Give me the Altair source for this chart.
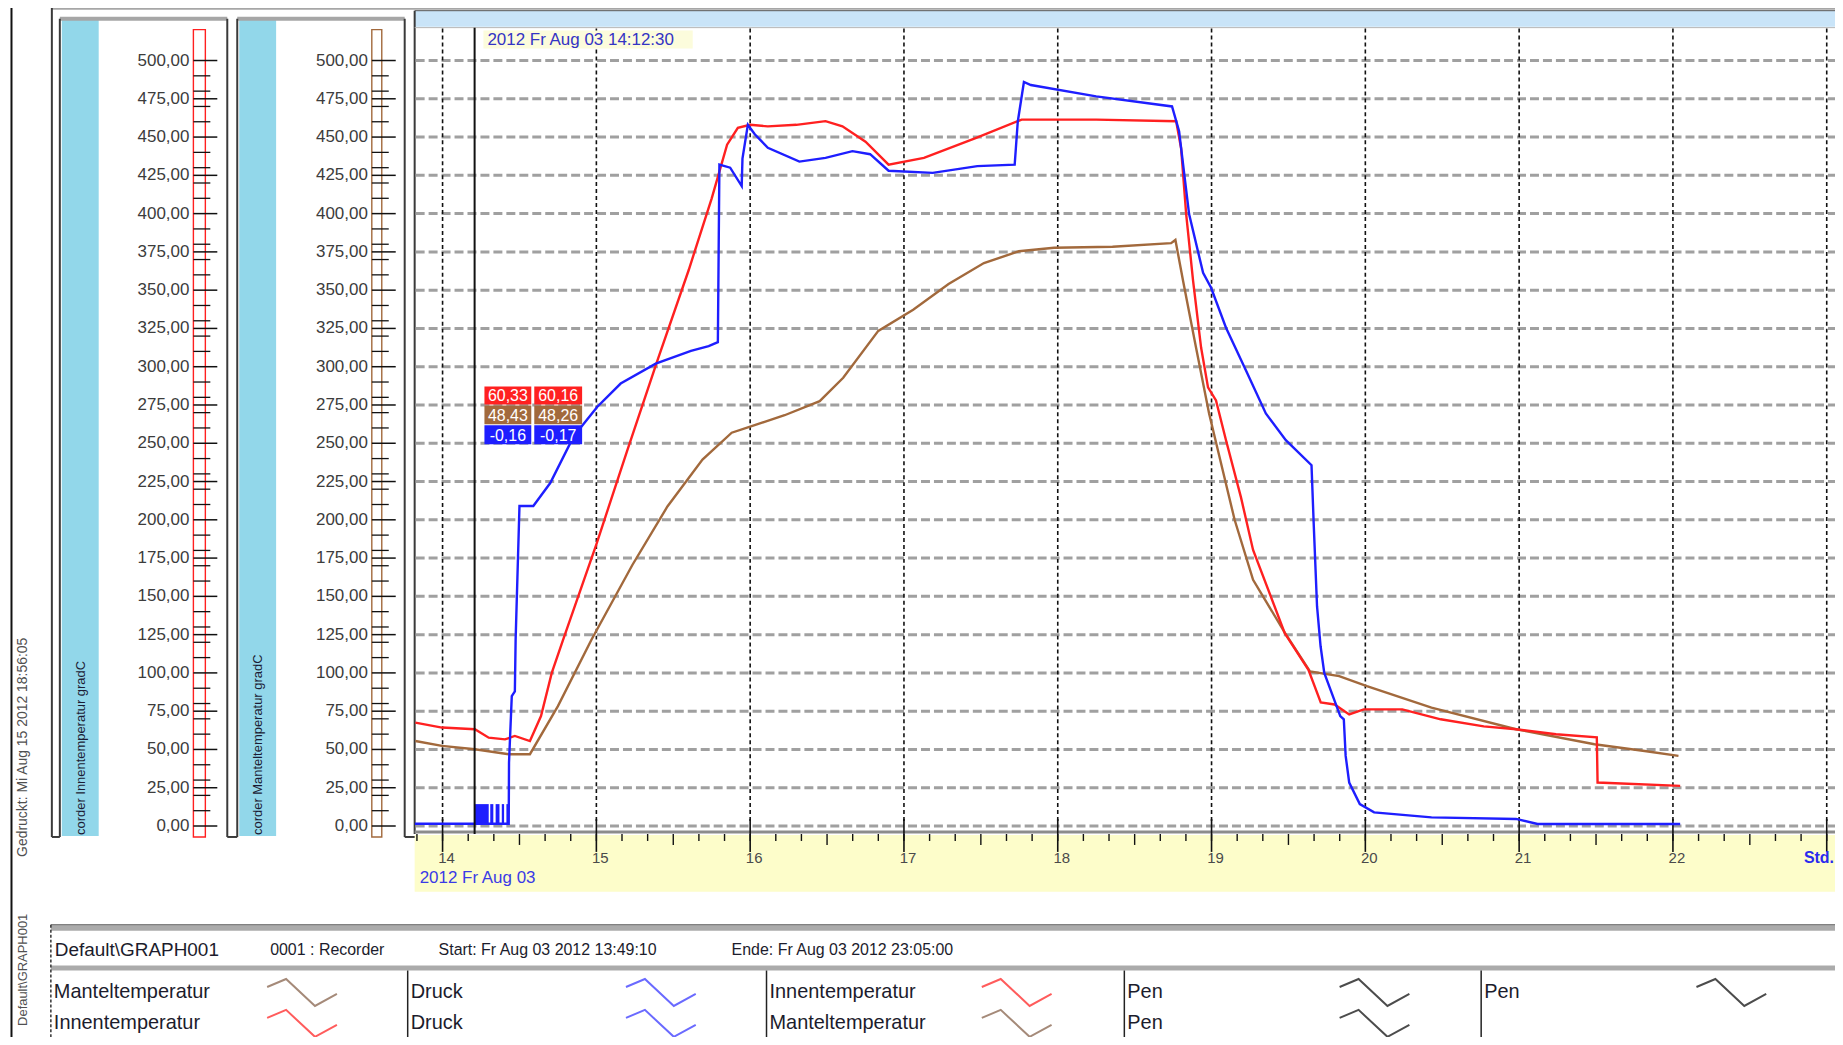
import altair as alt
import pandas as pd

# ---------------- data ----------------
innen_h = [13.823, 13.996, 14.21, 14.30, 14.406, 14.47, 14.568, 14.64, 14.71, 14.784, 15.0, 15.2, 15.4, 15.6,
           15.75, 15.85, 15.92, 16.0, 16.115, 16.3, 16.49, 16.6, 16.75, 16.9, 17.13, 17.47, 17.765, 18.25,
           18.77, 18.802, 18.835, 18.88, 18.932, 18.977, 19.029, 19.094, 19.191, 19.27, 19.476, 19.63, 19.71,
           19.8, 19.895, 19.99, 20.24, 20.49, 20.77, 20.98, 21.24, 21.505, 21.51, 22.047]
innen_v = [67.5, 64.3, 63.2, 57.7, 56.6, 58.8, 55.5, 71.8, 100, 121.7, 184, 245, 305, 363,
           410, 445, 456, 458, 457, 458, 460.4, 457, 447, 432, 436.4, 449.4, 461.4, 461.4,
           460.3, 442.7, 399.7, 356, 312.5, 286.5, 278, 252, 214.8, 180.3, 126, 102, 80.7,
           79.4, 72.9, 76.2, 76.2, 69.7, 65.1, 63.2, 59.9, 57.9, 28.4, 26.2]

druck_h = [13.82, 14.21, 14.43, 14.432, 14.45, 14.47, 14.475, 14.50, 14.59, 14.70, 14.853, 15.005, 15.158,
           15.386, 15.615, 15.73, 15.79, 15.80, 15.87, 15.945, 15.95, 15.985, 16.03, 16.115, 16.32, 16.49,
           16.665, 16.78, 16.9, 17.187, 17.477, 17.72, 17.74, 17.78, 17.825, 18.25, 18.743, 18.789, 18.854,
           18.945, 18.997, 19.094, 19.224, 19.353, 19.483, 19.65, 19.664, 19.686, 19.709, 19.733, 19.837,
           19.86, 19.872, 19.895, 19.964, 20.057, 20.43, 20.98, 21.12, 22.047]
druck_v = [1.5, 1.5, 1.5, 41.5, 84.8, 88, 121.7, 209, 209, 224, 254.6, 273.7, 289,
           302, 310.4, 313.5, 316, 432, 430, 418, 436, 458, 451.8, 443, 434, 436.4,
           440.8, 438.8, 428, 426.6, 431, 432, 460, 486, 484, 476.6, 470, 453.8, 399.7,
           361.3, 351.6, 325.5, 297.5, 269.5, 252, 235.7, 198, 143.4, 117.4, 100, 71.8,
           69.7, 45.8, 28.4, 14.3, 8.9, 5.6, 4.6, 1.3, 1.3]

# short bursts of the pressure signal just after the cursor
druck_burst_start = [14.21, 14.31, 14.345, 14.385, 14.415]
druck_burst_end = [14.30, 14.33, 14.37, 14.40, 14.43]
druck_burst_low = [1.5, 1.5, 1.5, 1.5, 1.5]
druck_burst_high = [14.3, 14.3, 14.3, 14.3, 14.3]

mantel_h = [13.823, 13.996, 14.21, 14.43, 14.568, 14.75, 14.968, 15.234, 15.462, 15.69, 15.88, 15.995,
            16.224, 16.452, 16.605, 16.833, 17.06, 17.29, 17.52, 17.747, 17.976, 18.356, 18.737, 18.765,
            18.815, 18.899, 18.984, 19.15, 19.27, 19.476, 19.64, 19.83, 20.01, 20.43, 20.98, 21.49,
            21.816, 22.036]
mantel_v = [55.5, 52.3, 50.1, 46.9, 46.9, 78.3, 121.7, 170.5, 208.7, 239.3, 256.9, 260.7,
            268.3, 277.5, 292.8, 323.4, 337.2, 354, 367.7, 375.4, 377.7, 378.4, 380.7, 382.8,
            356, 312.5, 269.5, 200, 160.8, 126.3, 101, 97.9, 91.3, 77.3, 63.2, 53.4,
            49, 45.8]

scale_ticks = [0, 25, 50, 75, 100, 125, 150, 175, 200, 225, 250, 275, 300, 325, 350, 375, 400, 425, 450, 475, 500]
scale_labels = ["0,00", "25,00", "50,00", "75,00", "100,00", "125,00", "150,00", "175,00", "200,00", "225,00",
                "250,00", "275,00", "300,00", "325,00", "350,00", "375,00", "400,00", "425,00", "450,00",
                "475,00", "500,00"]
scale_minor = [t for t in range(0, 501, 10) if t % 25]

grid_hours = [14, 15, 16, 17, 18, 19, 20, 21, 22, 23]
hour_labels = ["14", "15", "16", "17", "18", "19", "20", "21", "22"]
ten_min_ticks = [13 + 50 / 60 + k / 6 for k in range(0, 56)]

cursor_time = 14 + 12.5 / 60
cursor_text = "2012 Fr Aug 03  14:12:30"
cursor_values = [["60,33", "60,16"], ["48,43", "48,26"], ["-0,16", "-0,17"]]

header_texts = ["Default\\GRAPH001", "0001 : Recorder", "Start: Fr Aug 03 2012  13:49:10",
                "Ende: Fr Aug 03 2012  23:05:00"]
legend_names = [["Manteltemperatur", "Druck", "Innentemperatur", "Pen", "Pen"],
                ["Innentemperatur", "Druck", "Manteltemperatur", "Pen", ""]]
legend_colors = [["#a58a79", "#6a6aff", "#ff5c5c", "#4c4c4c", "#4c4c4c"],
                 ["#ff5c5c", "#6a6aff", "#a58a79", "#4c4c4c", ""]]

RED, BROWN, BLUE = "#ff2020", "#a2693c", "#1e1eff"
FONT = "Liberation Sans"

# ---------------- layout ----------------
W, H = 1833, 1029
OX, OY = 8, 8                     # page margin: reference px -> chart px
PX_PER_H, X14 = 154.3, 444        # reference x of 14:00 and px per hour
PX_PER_V, Y0 = 1.536, 827         # reference y of value 0 and px per unit

X_DOM = [14 - (X14 - OX) / PX_PER_H, 14 + (W - (X14 - OX)) / PX_PER_H]
Y_DOM = [((Y0 - OY) - H) / PX_PER_V, (Y0 - OY) / PX_PER_V]
xs = alt.Scale(domain=X_DOM, nice=False, zero=False)
ys = alt.Scale(domain=Y_DOM, nice=False, zero=False)


def px(v):
    return v - OX


def py(v):
    return v - OY


def rects(rows, **kw):
    df = pd.DataFrame([{"x": px(a), "x2": px(b), "y": py(c), "y2": py(d)} for a, b, c, d in rows])
    return alt.Chart(df).mark_rect(**kw).encode(
        x=alt.X("x:Q", scale=None), x2="x2:Q", y=alt.Y("y:Q", scale=None), y2="y2:Q")


def rules(rows, **kw):
    df = pd.DataFrame([{"x": px(a), "x2": px(b), "y": py(c), "y2": py(d)} for a, b, c, d in rows])
    return alt.Chart(df).mark_rule(**kw).encode(
        x=alt.X("x:Q", scale=None), x2="x2:Q", y=alt.Y("y:Q", scale=None), y2="y2:Q")


def texts(rows, **kw):
    df = pd.DataFrame([{"x": px(a), "y": py(b), "t": t} for a, b, t in rows])
    kw.setdefault("font", FONT)
    return alt.Chart(df).mark_text(**kw).encode(
        x=alt.X("x:Q", scale=None), y=alt.Y("y:Q", scale=None), text="t:N")


def series(h, v, color, width=2.4):
    df = pd.DataFrame({"h": h, "v": v, "i": list(range(len(h)))})
    return alt.Chart(df).mark_line(color=color, strokeWidth=width).encode(
        x=alt.X("h:Q", scale=xs, axis=None), y=alt.Y("v:Q", scale=ys, axis=None), order="i:Q")


layers = []

# ---- frames and fills ----
layers.append(rects([(62, 99, 17, 837), (240, 277, 17, 837)], fill="#92d7ea"))
layers.append(rects([(416, 1845, 9, 25)], fill="#c9e4f8"))
layers.append(rects([(416, 1845, 836, 893)], fill="#fdfdca"))
layers.append(rects([(52, 1845, 3, 8), (60, 228, 15, 19), (238, 406, 15, 19)], fill="#a6a6a6"))
layers.append(rects([(51, 1845, 926, 932), (51, 1845, 967, 972)], fill="#ababab"))
layers.append(rects([(194, 206, 28, 838)], fill="white", stroke=RED, strokeWidth=1.4))
layers.append(rects([(373, 383, 28, 838)], fill="white", stroke=BROWN, strokeWidth=1.4))

layers.append(rules([(11.5, 11.5, 0, 1045)], color="#111111", strokeWidth=2))
layers.append(rules([(52, 52, 5, 838), (60, 60, 17, 838), (228, 228, 17, 838), (238, 238, 17, 838),
                     (406, 406, 17, 838), (416, 416, 9, 835),
                     (52, 60, 838, 838), (228, 238, 838, 838), (406, 416, 838, 838)],
                    color="#3a3a3a", strokeWidth=2))
layers.append(rules([(416, 1845, 9, 9)], color="#555555", strokeWidth=1))
layers.append(rules([(416, 1845, 26, 26)], color="#b5b5b5", strokeWidth=1))
layers.append(rules([(416, 1845, 833, 833)], color="#8c8c8c", strokeWidth=3))
layers.append(rules([(51, 1845, 926, 926)], color="#6a6a6a", strokeWidth=1))
layers.append(rules([(51, 51, 926, 1045)], color="#333333", strokeWidth=1.5, strokeDash=[3, 2]))
layers.append(rules([(409, 409, 972, 1045), (769, 769, 972, 1045), (1128, 1128, 972, 1045),
                     (1486, 1486, 972, 1045)], color="#222222", strokeWidth=1.5))

# ---- grid ----
grid_h_df = pd.DataFrame({"v": scale_ticks})
layers.append(alt.Chart(grid_h_df).mark_rule(color="#a0a0a0", strokeWidth=3, strokeDash=[9, 4]).encode(
    y=alt.Y("v:Q", scale=ys, axis=None), x=alt.value(px(417)), x2=alt.value(px(1845))))
grid_v_df = pd.DataFrame({"h": grid_hours})
layers.append(alt.Chart(grid_v_df).mark_rule(color="#111111", strokeWidth=1.6, strokeDash=[4, 3]).encode(
    x=alt.X("h:Q", scale=xs, axis=None), y=alt.value(py(27)), y2=alt.value(py(822))))
layers.append(alt.Chart(grid_v_df).mark_rule(color="#111111", strokeWidth=1.6).encode(
    x=alt.X("h:Q", scale=xs, axis=None), y=alt.value(py(820)), y2=alt.value(py(853))))
ten_df = pd.DataFrame({"h": ten_min_ticks, "half": [round((t % 1) * 60) == 30 for t in ten_min_ticks]})
layers.append(alt.Chart(ten_df).transform_filter("!datum.half").mark_rule(color="#111111", strokeWidth=1.4).encode(
    x=alt.X("h:Q", scale=xs, axis=None), y=alt.value(py(835)), y2=alt.value(py(842))))
layers.append(alt.Chart(ten_df).transform_filter("datum.half").mark_rule(color="#111111", strokeWidth=1.4).encode(
    x=alt.X("h:Q", scale=xs, axis=None), y=alt.value(py(835)), y2=alt.value(py(846))))
hl_df = pd.DataFrame({"h": grid_hours[:len(hour_labels)], "t": hour_labels})
layers.append(alt.Chart(hl_df).mark_text(font=FONT, fontSize=15, color="#4a4a4a", dx=4, baseline="middle").encode(
    x=alt.X("h:Q", scale=xs, axis=None), y=alt.value(py(859)), text="t:N"))

# ---- side scales ----
st_df = pd.DataFrame({"v": scale_ticks, "t": scale_labels})
sm_df = pd.DataFrame({"v": scale_minor})
for x_lab, x_tick in [(190, 194), (369, 373)]:
    layers.append(alt.Chart(st_df).mark_rule(color="#111111", strokeWidth=1.5).encode(
        y=alt.Y("v:Q", scale=ys, axis=None), x=alt.value(px(x_tick)), x2=alt.value(px(x_tick + 24))))
    layers.append(alt.Chart(sm_df).mark_rule(color="#111111", strokeWidth=1.3).encode(
        y=alt.Y("v:Q", scale=ys, axis=None), x=alt.value(px(x_tick)), x2=alt.value(px(x_tick + 17))))
    layers.append(alt.Chart(st_df).mark_text(font=FONT, fontSize=17, color="#3c3c3c", align="right",
                                             baseline="middle").encode(
        y=alt.Y("v:Q", scale=ys, axis=None), x=alt.value(px(x_lab)), text="t:N"))

layers.append(texts([(81, 836, "corder Innentemperatur gradC"), (259, 836, "corder Manteltemperatur gradC")],
                    angle=270, align="left", baseline="middle", fontSize=13, color="#1c1c34"))
layers.append(texts([(23, 748, "Gedruckt: Mi Aug 15 2012 18:56:05")], angle=270, align="center",
                    baseline="middle", fontSize=14, color="#505050"))
layers.append(texts([(23, 915, "Default\\GRAPH001")], angle=270, align="right",
                    baseline="middle", fontSize=13, color="#505050"))

# ---- data ----
burst_df = pd.DataFrame({"h0": druck_burst_start, "h1": druck_burst_end,
                         "v0": druck_burst_low, "v1": druck_burst_high})
layers.append(alt.Chart(burst_df).mark_rect(color=BLUE).encode(
    x=alt.X("h0:Q", scale=xs, axis=None), x2="h1:Q", y=alt.Y("v0:Q", scale=ys, axis=None), y2="v1:Q"))
layers.append(series(mantel_h, mantel_v, BROWN))
layers.append(series(innen_h, innen_v, RED))
layers.append(series(druck_h, druck_v, BLUE))

# ---- cursor ----
cur_df = pd.DataFrame({"h": [cursor_time]})
layers.append(alt.Chart(cur_df).mark_rule(color="#111111", strokeWidth=2).encode(
    x=alt.X("h:Q", scale=xs, axis=None), y=alt.value(py(26)), y2=alt.value(py(835))))
layers.append(rects([(485, 695, 29, 47)], fill="#fcfcdc"))
layers.append(texts([(489, 38, cursor_text)], align="left", baseline="middle", fontSize=17, color="#3434c4"))

box_cols = [(486, 533), (536, 584)]
box_rows = [(386, 404, RED), (405, 424, BROWN), (425, 444, BLUE)]
for r, (y1, y2, col) in enumerate(box_rows):
    layers.append(rects([(a, b, y1, y2) for a, b in box_cols], fill=col))
    layers.append(texts([((a + b) / 2, (y1 + y2) / 2 + 1, cursor_values[r][c]) for c, (a, b) in enumerate(box_cols)],
                        align="center", baseline="middle", fontSize=16, color="white"))

# ---- axis captions ----
layers.append(texts([(421, 879, "2012 Fr Aug 03")], align="left", baseline="middle", fontSize=17, color="#3a3ae6"))
layers.append(texts([(1840, 859, "Std.")], align="right", baseline="middle", fontSize=16, fontWeight="bold",
                    color="#2a2aee"))

# ---- legend table ----
layers.append(texts([(55, 951, header_texts[0])], align="left", baseline="middle", fontSize=19, color="#1c1c2c"))
layers.append(texts([(271, 951, header_texts[1]), (440, 951, header_texts[2]), (734, 951, header_texts[3])],
                    align="left", baseline="middle", fontSize=16, color="#1c1c2c"))
col_text_x = [54, 412, 772, 1131, 1489]
col_icon_x = [303, 663, 1020, 1379, 1737]
row_y = [994, 1025]
name_rows, icon_rows = [], []
for r in range(2):
    for c in range(5):
        if legend_names[r][c]:
            name_rows.append((col_text_x[c], row_y[r], legend_names[r][c]))
            icon_rows.append({"x": px(col_icon_x[c]), "y": py(row_y[r]), "c": legend_colors[r][c]})
layers.append(texts(name_rows, align="left", baseline="middle", fontSize=20, color="#1c1c2c"))
ZIGZAG = "M-1,-0.157L-0.457,-0.386L0.371,0.386L1,0.043"
layers.append(alt.Chart(pd.DataFrame(icon_rows)).mark_point(
    shape=ZIGZAG, size=4900, filled=False, strokeWidth=2, opacity=1).encode(
    x=alt.X("x:Q", scale=None), y=alt.Y("y:Q", scale=None), color=alt.Color("c:N", scale=None)))

chart = alt.layer(*layers).resolve_scale(x="independent", y="independent", color="independent").properties(
    width=W, height=H, padding=0, autosize=alt.AutoSizeParams(type="none"), background="white"
).configure_view(strokeWidth=0)

chart.save("out.html", embed_options={"renderer": "svg", "actions": False})
